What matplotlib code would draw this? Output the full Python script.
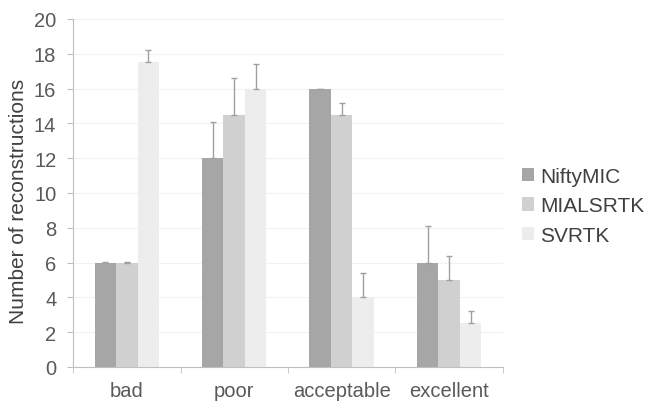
import numpy as np
import matplotlib
matplotlib.use('Agg')
from matplotlib import pyplot as plt

categories = ['bad', 'poor', 'acceptable', 'excellent']
methods = ['NiftyMIC', 'MIALSRTK', 'SVRTK']
means = {
    'NiftyMIC': [6, 12, 16, 6],
    'MIALSRTK': [6, 14.5, 14.5, 5],
    'SVRTK': [17.5, 16, 4, 2.5],
}
errs = {
    'NiftyMIC': [0.05, 2.1, 0.0, 2.1],
    'MIALSRTK': [0.05, 2.1, 0.7, 1.4],
    'SVRTK': [0.7, 1.4, 1.4, 0.7],
}
colors = ['#a6a6a6', '#d0d0d0', '#ededed']

plt.rcParams['font.family'] = ['Liberation Sans', 'DejaVu Sans']

fig = plt.figure(figsize=(6.49, 4.02), dpi=100)
ax = fig.add_axes([0.1125, 0.0846, 0.6625, 0.8657])

x = np.arange(len(categories))
w = 0.2
for i, m in enumerate(methods):
    ax.bar(x + (i - 1) * w, means[m], w, color=colors[i], label=m,
           yerr=[np.zeros(len(categories)), errs[m]],
           error_kw=dict(ecolor='#a0a0a0', elinewidth=1, capsize=2.2, capthick=1))

ax.set_xlim(-0.5, 3.5)
ax.set_ylim(0, 20)
ax.set_yticks(range(0, 21, 2))
ax.set_xticks(x)
ax.set_xticklabels(categories)
ax.set_xticks([-0.5, 0.5, 1.5, 2.5, 3.5], minor=True)
ax.tick_params(axis='x', which='major', length=0, pad=10, labelsize=14.5, labelcolor='#595959')
ax.tick_params(axis='x', which='minor', length=4, color='#bfbfbf', direction='out')
ax.tick_params(axis='y', length=4, color='#bfbfbf', labelsize=14.5, labelcolor='#595959', pad=8)
ax.yaxis.grid(True, color='#f2f2f2', lw=0.8)
ax.set_axisbelow(True)
for s in ['top', 'right']:
    ax.spines[s].set_visible(False)
for s in ['left', 'bottom']:
    ax.spines[s].set_color('#bfbfbf')
ax.set_ylabel('Number of reconstructions', fontsize=15, color='#404040')
ax.yaxis.set_label_coords(-0.105, 0.478)

ax.legend(loc='center left', bbox_to_anchor=(1.0, 0.463), frameon=False, fontsize=15,
          handlelength=0.6, handleheight=0.6, handletextpad=0.3, labelspacing=0.5,
          labelcolor='#404040')

fig.savefig('out.png', dpi=100)
